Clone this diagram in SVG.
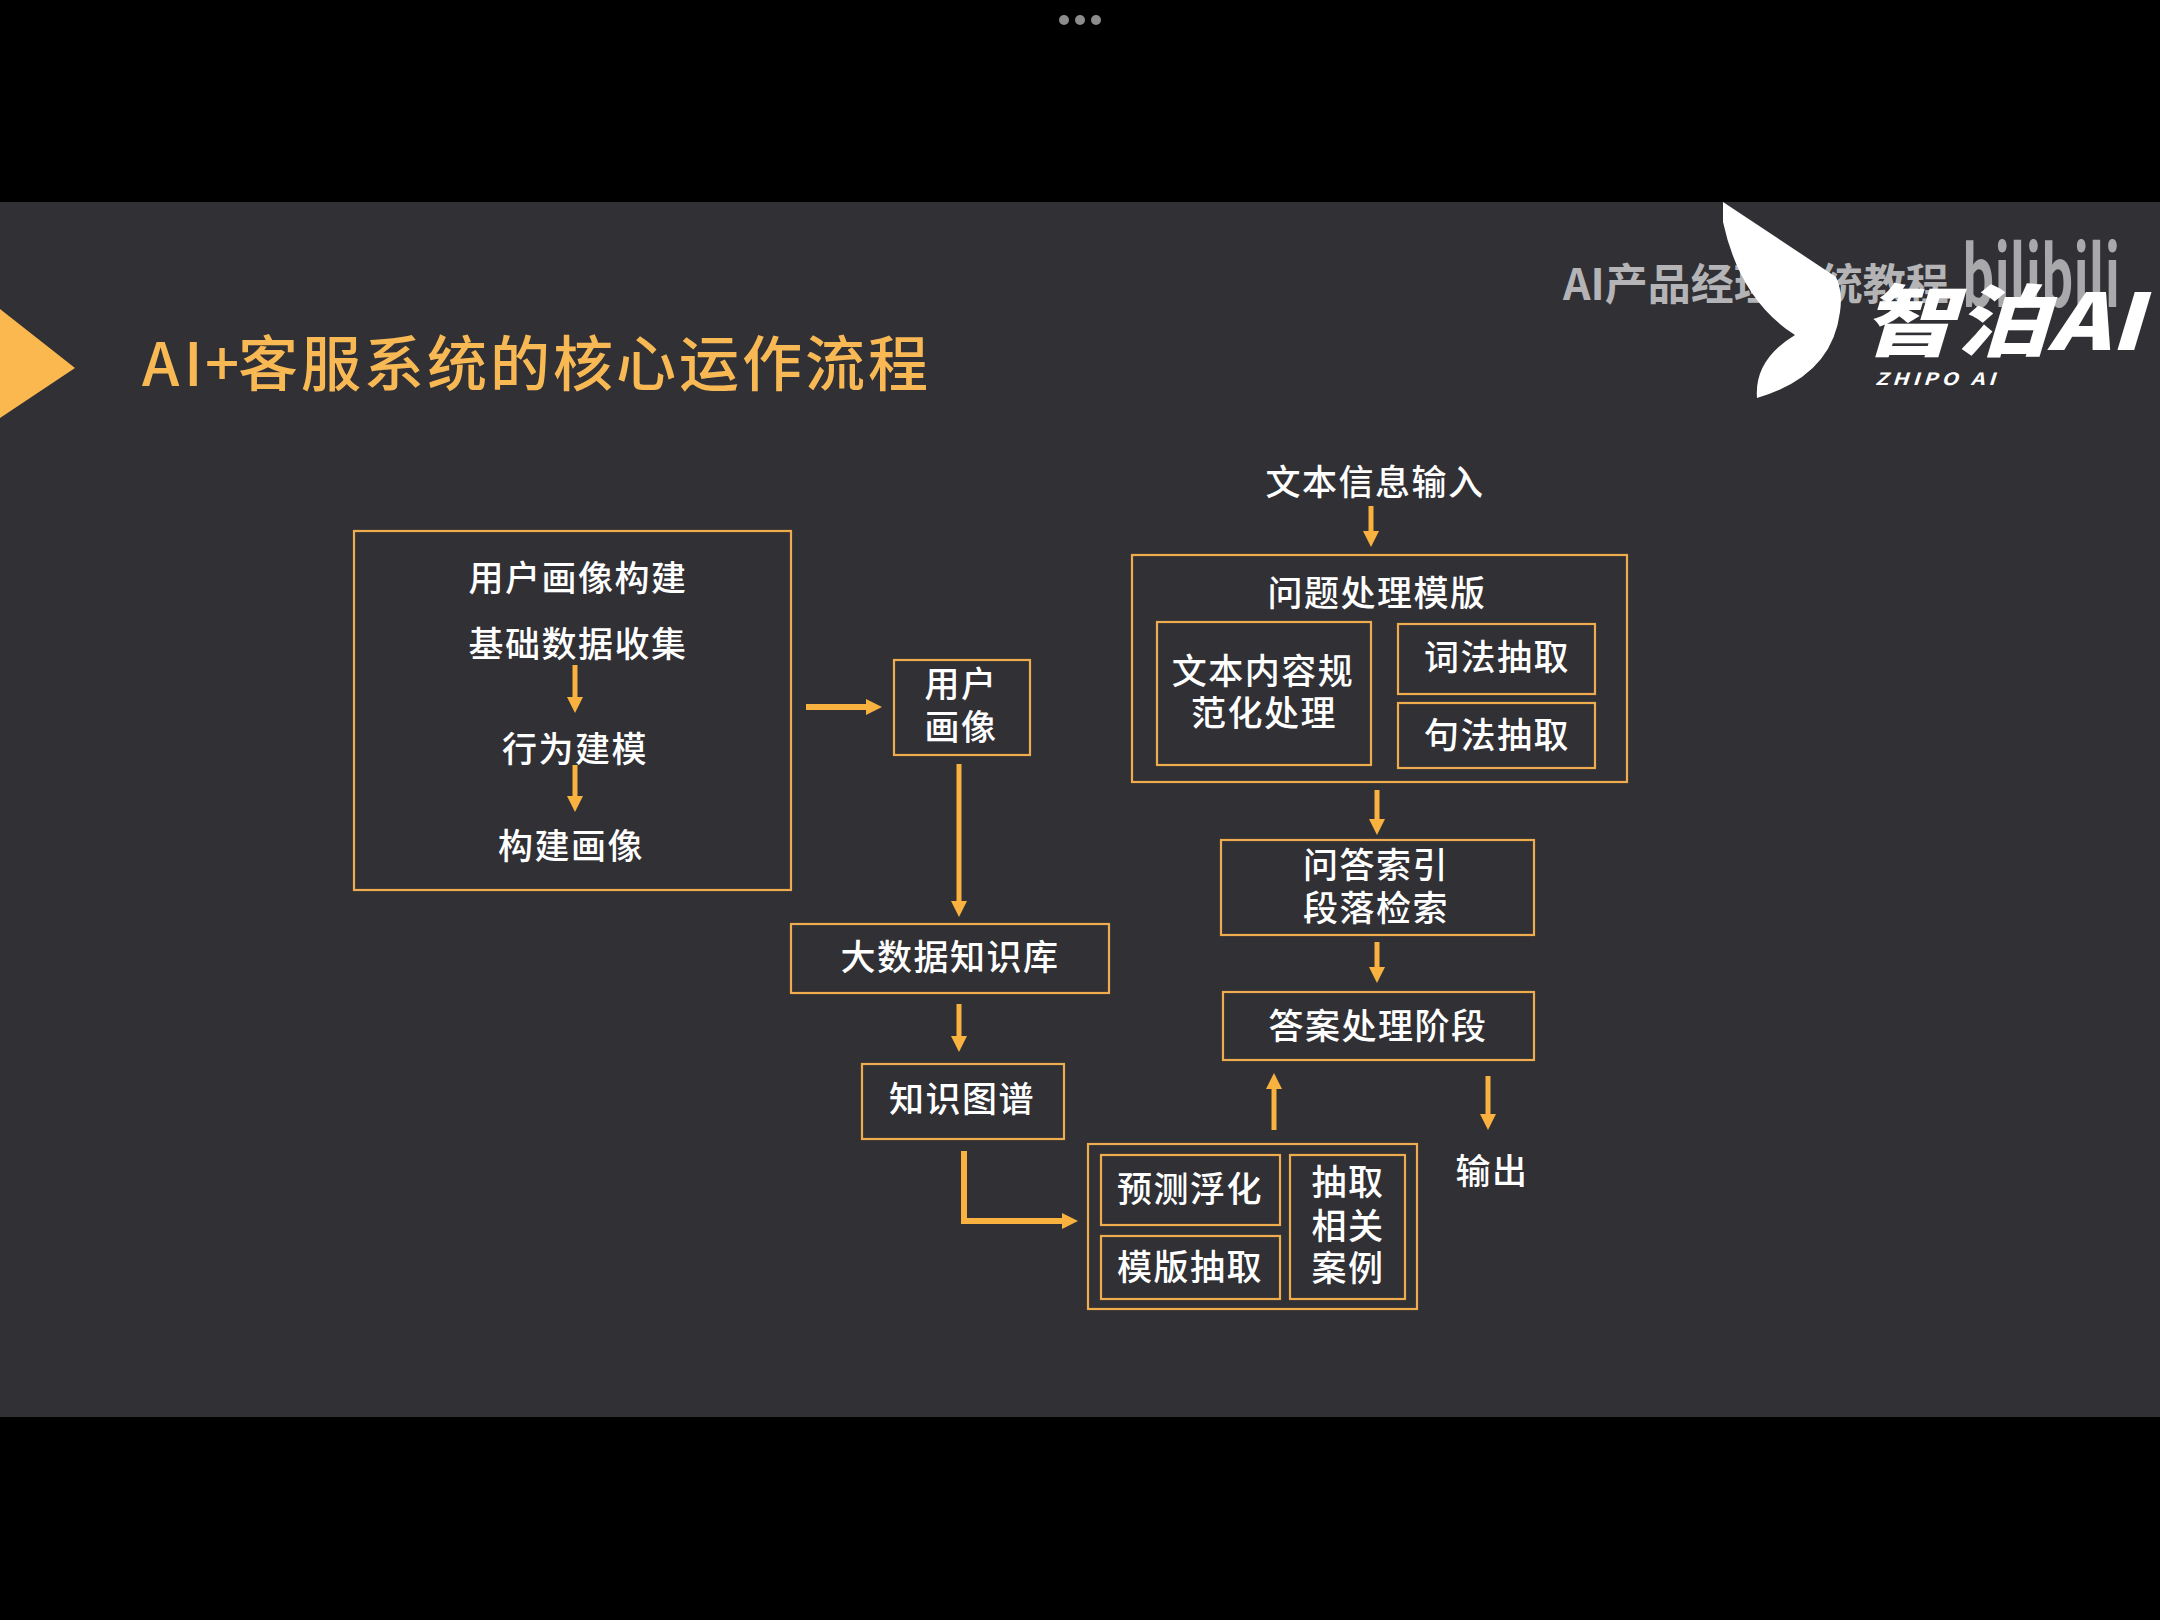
<svg xmlns="http://www.w3.org/2000/svg" width="2160" height="1620" viewBox="0 0 2160 1620">
<style>
text{font-family:"Noto Sans CJK SC","Noto Sans",sans-serif}
.t{font-size:35px;font-weight:500;fill:#fff;text-anchor:middle;letter-spacing:1.5px}
.b{fill:none;stroke:#eeac4e;stroke-width:2.2}
.c{fill:none;stroke:#f9b23f;stroke-width:5;marker-end:url(#h)}
.w{stroke-width:6}
</style>
<defs>
<marker id="h" markerUnits="userSpaceOnUse" viewBox="0 0 16 16" refX="1" refY="8" markerWidth="16" markerHeight="16" orient="auto"><path d="M0 0L16 8L0 16Z" fill="#f9b23f"/></marker>
</defs>
<rect width="2160" height="1620" fill="#000"/>
<rect y="202" width="2160" height="1215" fill="#303035"/>
<g id="dots" fill="#8c8c8c"><circle cx="1064" cy="20" r="5"/><circle cx="1080" cy="20" r="5"/><circle cx="1096" cy="20" r="5"/></g>
<path id="title-mark" d="M0 309L75 368L0 418Z" fill="#fbb84f"/>
<text id="title" x="142 184 205 238" y="386" font-size="60" font-weight="500" fill="#f8b955" letter-spacing="3">AI+客服系统的核心运作流程</text>
<text id="watermark" x="1563" y="300" font-size="43" font-weight="700" fill="#b4b4b7">AI产品经理系统教程</text>
<text id="bilibili" x="1962" y="307" font-size="84" font-weight="700" fill="#a9a9ac" font-family="Liberation Sans" textLength="158" lengthAdjust="spacingAndGlyphs">bilibili</text>
<g id="logo" fill="#fff">
<path d="M1723 202L1836 277Q1843 292 1840 312Q1832 376 1757 398Q1754 360 1795 335Q1740 300 1723 222Z"/>
<text x="1862" y="350" font-size="78" font-weight="900" font-style="italic" textLength="280" lengthAdjust="spacingAndGlyphs">智泊AI</text>
<text x="1875" y="385" font-size="17" font-weight="700" font-style="italic" textLength="124" lengthAdjust="spacingAndGlyphs" font-family="Liberation Sans" letter-spacing="3">ZHIPO AI</text>
</g>
<g id="connectors">
<path class="c" d="M575 665V698"/>
<path class="c" d="M575 765V797"/>
<path class="c w" d="M806 707H867"/>
<path class="c" d="M959 764V902"/>
<path class="c" d="M959 1004V1037"/>
<path class="c w" d="M964 1151V1221H1063"/>
<path class="c" d="M1274 1130V1088"/>
<path class="c" d="M1488 1076V1115"/>
<path class="c" d="M1377 942V968"/>
<path class="c" d="M1377 790V820"/>
<path class="c" d="M1371 506V532"/>
</g>
<g id="profile-build"><rect class="b" x="354" y="531" width="437" height="359"/>
<text class="t" x="578" y="591">用户画像构建</text><text class="t" x="578" y="657">基础数据收集</text><text class="t" x="575" y="762">行为建模</text><text class="t" x="571" y="859">构建画像</text></g>
<g id="profile"><rect class="b" x="894" y="660" width="136" height="95"/>
<text class="t" x="961" y="697">用户</text><text class="t" x="961" y="740">画像</text></g>
<g id="big-data"><rect class="b" x="791" y="924" width="318" height="69"/><text class="t" x="950" y="970">大数据知识库</text></g>
<g id="kg"><rect class="b" x="862" y="1064" width="202" height="75"/><text class="t" x="962" y="1112">知识图谱</text></g>
<g id="extract"><rect class="b" x="1088" y="1144" width="329" height="165"/>
<rect class="b" x="1101" y="1155" width="179" height="70"/><text class="t" x="1190" y="1202">预测浮化</text>
<rect class="b" x="1101" y="1236" width="179" height="63"/><text class="t" x="1190" y="1280">模版抽取</text>
<rect class="b" x="1290" y="1155" width="115" height="144"/><text class="t" x="1348" y="1195">抽取</text><text class="t" x="1348" y="1239">相关</text><text class="t" x="1348" y="1281">案例</text></g>
<g id="output"><text class="t" x="1492" y="1184">输出</text></g>
<g id="answer"><rect class="b" x="1223" y="992" width="311" height="68"/><text class="t" x="1378" y="1039">答案处理阶段</text></g>
<g id="index"><rect class="b" x="1221" y="840" width="313" height="95"/><text class="t" x="1376" y="878">问答索引</text><text class="t" x="1376" y="921">段落检索</text></g>
<g id="question"><rect class="b" x="1132" y="555" width="495" height="227"/><text class="t" x="1377" y="606">问题处理模版</text>
<rect class="b" x="1157" y="622" width="214" height="143"/><text class="t" x="1263" y="684">文本内容规</text><text class="t" x="1264" y="726">范化处理</text>
<rect class="b" x="1398" y="624" width="197" height="70"/><text class="t" x="1497" y="670">词法抽取</text>
<rect class="b" x="1398" y="703" width="197" height="65"/><text class="t" x="1497" y="748">句法抽取</text></g>
<g id="input"><text class="t" x="1375" y="495">文本信息输入</text></g>
</svg>
